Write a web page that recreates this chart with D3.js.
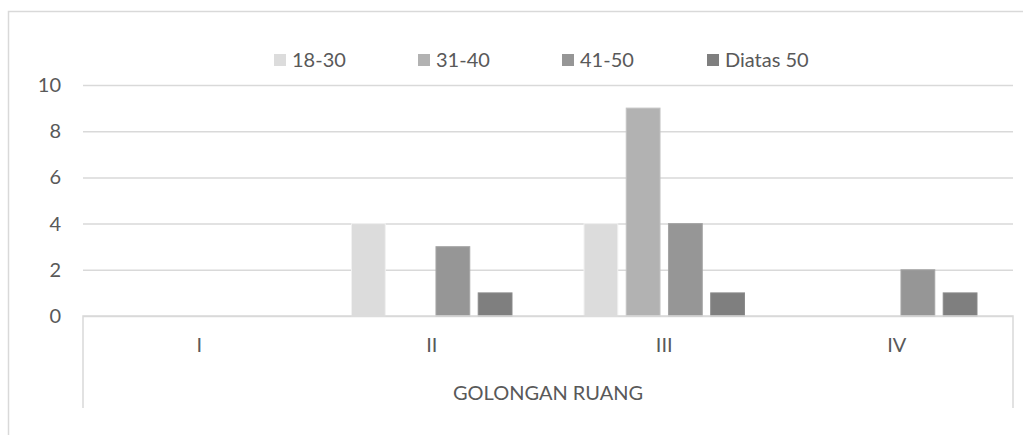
<!DOCTYPE html>
<html>
<head>
<meta charset="utf-8">
<script src="https://cdn.jsdelivr.net/npm/d3@7"></script>
<style>
  body { margin: 0; background: #fff; }
  svg { display: block; font-family: Lato, "Open Sans", sans-serif; }
</style>
</head>
<body>
<div id="chart"></div>
<script>
// data
var categories = ["I", "II", "III", "IV"];
var seriesNames = ["18-30", "31-40", "41-50", "Diatas 50"];
var seriesColors = ["#dcdcdc", "#b2b2b2", "#969696", "#7f7f7f"];
var values1830 = [0, 4, 4, 0];
var values3140 = [0, 0, 9, 0];
var values4150 = [0, 3, 4, 2];
var valuesOver50 = [0, 1, 1, 1];
var yTicks = [0, 2, 4, 6, 8, 10];
var axisTitle = "GOLONGAN RUANG";

var seriesValues = [values1830, values3140, values4150, valuesOver50];

var chartW = 1023, chartH = 435;
var plotLeft = 83, plotRight = 1013, plotTop = 85, plotBottom = 316;
var textColor = "#595959", lineColor = "#d9d9d9";
var fontSize = 20;

var svg = d3.select("#chart").append("svg")
    .attr("width", chartW).attr("height", chartH);

// chart area border
svg.append("rect")
    .attr("x", 8.5).attr("y", 11.5)
    .attr("width", 1040).attr("height", 460)
    .attr("fill", "none").attr("stroke", lineColor).attr("stroke-width", 1.5);

var x0 = d3.scaleBand().domain(categories).range([plotLeft, plotRight]);
var x1 = d3.scaleBand().domain(seriesNames)
    .range([36, x0.bandwidth() - 36]).paddingInner(0.2);
var y = d3.scaleLinear().domain([0, 10]).range([plotBottom, plotTop]);

// gridlines and value labels
var yAxis = d3.axisLeft(y).tickValues(yTicks).tickSize(-(plotRight - plotLeft)).tickPadding(22);
var gy = svg.append("g").attr("transform", "translate(" + plotLeft + ",0)").call(yAxis);
gy.select(".domain").remove();
gy.selectAll(".tick line").attr("stroke", lineColor).attr("stroke-width", 1.5);
gy.selectAll(".tick text").attr("fill", textColor).attr("font-size", fontSize)
    .attr("font-family", "Lato, 'Open Sans', sans-serif");

// bars
var groups = svg.append("g").selectAll("g")
    .data(seriesNames)
    .join("g")
    .attr("fill", function (d, i) { return seriesColors[i]; });

groups.selectAll("rect")
    .data(function (d, i) {
        return seriesValues[i]
            .map(function (v, j) { return { s: d, c: categories[j], v: v, i: i }; })
            .filter(function (o) { return o.v > 0; });
    })
    .join("rect")
    .attr("x", function (d) { return x0(d.c) + x1(d.s); })
    .attr("y", function (d) { return y(d.v); })
    .attr("width", x1.bandwidth())
    .attr("height", function (d) { return y(0) - y(d.v); })
    .attr("stroke", function (d) { return d3.color(seriesColors[d.i]).brighter(0.25); })
    .attr("stroke-width", 1);

// category axis box
var boxBottom = 408;
svg.append("path")
    .attr("d", "M" + plotLeft + "," + boxBottom + "V" + plotBottom + "H" + plotRight + "V" + boxBottom)
    .attr("fill", "none").attr("stroke", lineColor).attr("stroke-width", 1.5);

var xAxis = d3.axisBottom(x0).tickSize(0).tickPadding(22);
var gx = svg.append("g").attr("transform", "translate(0," + plotBottom + ")").call(xAxis);
gx.select(".domain").remove();
gx.selectAll(".tick text").attr("fill", textColor).attr("font-size", fontSize)
    .attr("font-family", "Lato, 'Open Sans', sans-serif");

svg.append("text")
    .attr("x", (plotLeft + plotRight) / 2).attr("y", 393)
    .attr("dy", "0.35em")
    .attr("text-anchor", "middle")
    .attr("fill", textColor).attr("font-size", fontSize)
    .text(axisTitle);

// legend
var legendX = [274, 418, 562, 707];
var legend = svg.append("g").selectAll("g")
    .data(seriesNames)
    .join("g")
    .attr("transform", function (d, i) { return "translate(" + legendX[i] + ",60)"; });

legend.append("rect")
    .attr("x", 0).attr("y", -6)
    .attr("width", 12).attr("height", 12)
    .attr("fill", function (d, i) { return seriesColors[i]; });

legend.append("text")
    .attr("x", 18).attr("dy", "0.35em")
    .attr("fill", textColor).attr("font-size", fontSize)
    .text(function (d) { return d; });
</script>
</body>
</html>
